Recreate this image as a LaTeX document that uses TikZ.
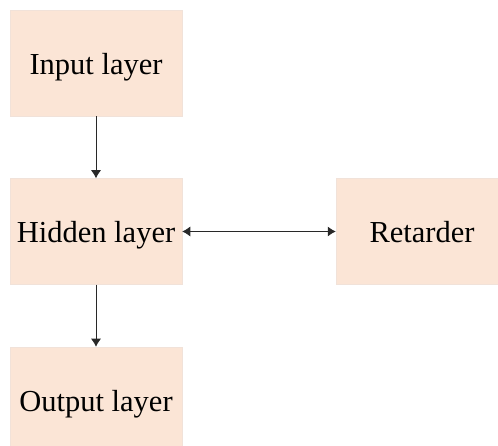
\documentclass[tikz,border=0pt]{standalone}
\usepackage{fontspec}
\setmainfont{Liberation Serif}
\usetikzlibrary{arrows.meta}
\definecolor{peach}{HTML}{FBE5D6}
\definecolor{peachedge}{HTML}{F1E2D9}
\begin{document}
\begin{tikzpicture}[x=1pt,y=-1pt,
  layerbox/.style={rectangle, fill=peach, draw=peachedge, line width=0.5pt,
    minimum width=172pt, minimum height=106pt, inner sep=0pt,
    text height=23pt, text depth=0pt,
    font=\fontsize{30.5}{36}\selectfont},
  flow/.style={line width=0.9pt, draw={rgb,255:red,40;green,40;blue,40},
    -{Latex[length=8pt,width=10pt]}},
  both/.style={line width=0.9pt, draw={rgb,255:red,40;green,40;blue,40},
    {Latex[length=8pt,width=10pt]}-{Latex[length=8pt,width=10pt]}}]
  \clip (0,0) rectangle (498,446);
  \node[layerbox] (in)  at (96,63)    {Input layer};
  \node[layerbox] (hid) at (96,231.5) {Hidden layer};
  \node[layerbox] (out) at (96,400)   {Output layer};
  \node[layerbox] (ret) at (422,231.5) {Retarder};
  \draw[flow] (in.south) -- (hid.north);
  \draw[flow] (hid.south) -- (out.north);
  \draw[both] (hid.east) -- (ret.west);
\end{tikzpicture}
\end{document}
